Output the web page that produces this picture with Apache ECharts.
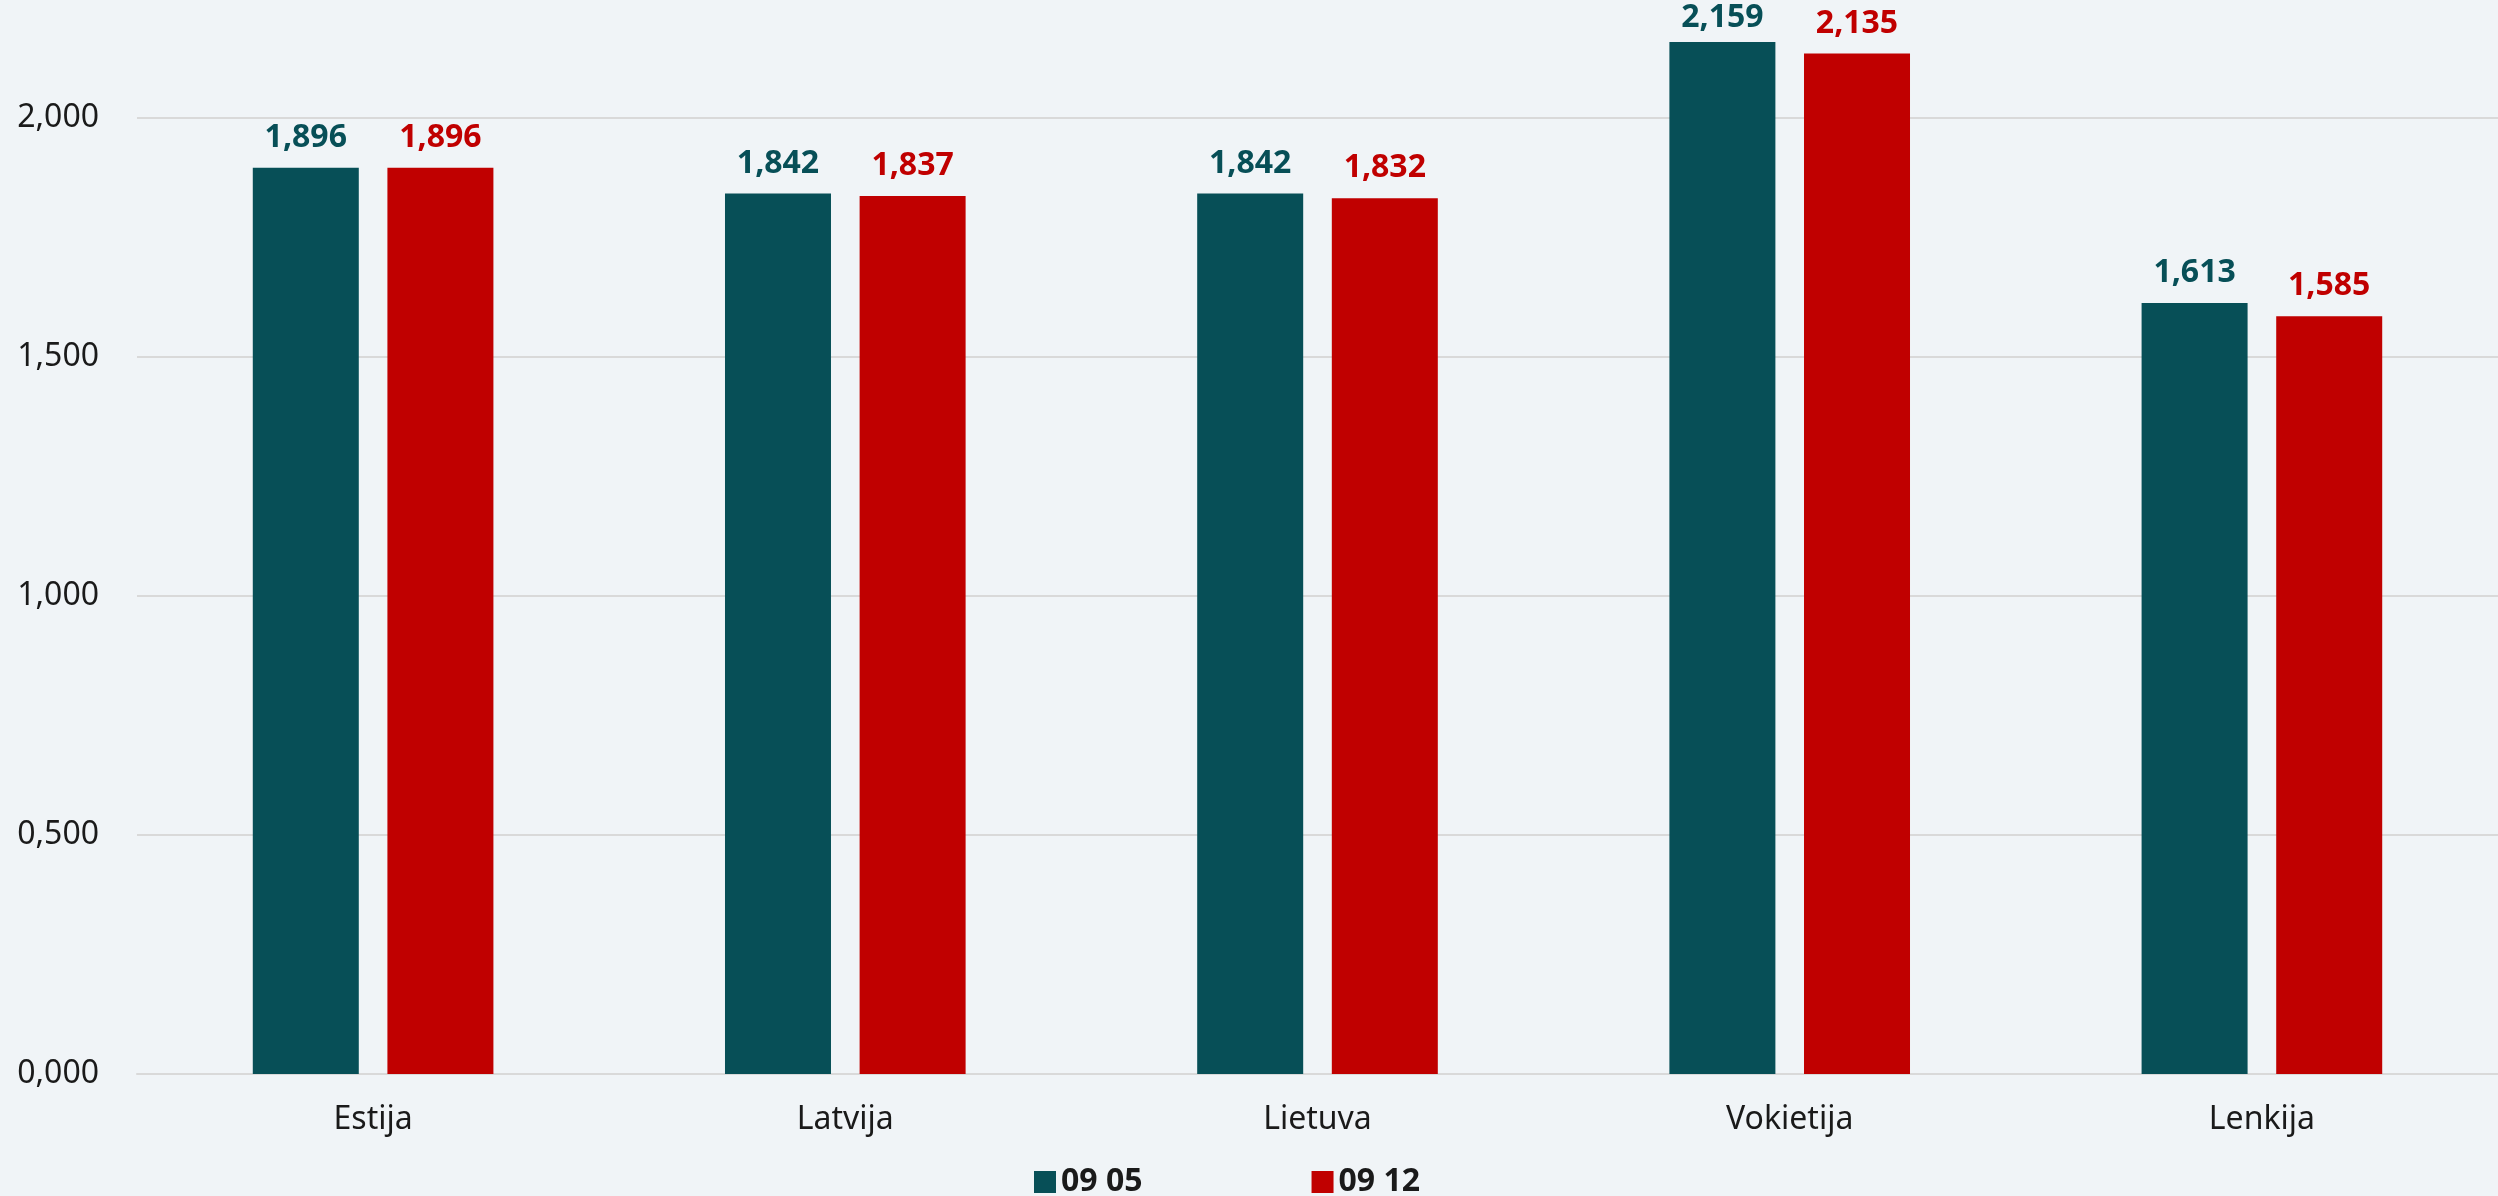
<!DOCTYPE html>
<html>
<head>
<meta charset="utf-8">
<script src="https://cdn.jsdelivr.net/npm/echarts@6/dist/echarts.min.js"></script>
<style>
html,body{margin:0;padding:0;background:#F0F4F7;}
#chart{width:2498px;height:1196px;}
</style>
</head>
<body>
<div id="chart"></div>
<script>
const categories = ['Estija', 'Latvija', 'Lietuva', 'Vokietija', 'Lenkija'];
const seriesNames = ['09 05', '09 12'];
const values0905 = [1.896, 1.842, 1.842, 2.159, 1.613];
const values0912 = [1.896, 1.837, 1.832, 2.135, 1.585];
const colors = ['#074F57', '#C00000'];

const fmt = v => Number(v).toFixed(3).replace('.', ',');
const font = '"Noto Sans", sans-serif';

// keep labels inside the canvas (as the original renderer does)
const keepInside = p => (p.labelRect.y < 2 ? {dy: 2 - p.labelRect.y} : {});

const chart = echarts.init(document.getElementById('chart'));
chart.setOption({
  backgroundColor: '#F0F4F7',
  animation: false,
  grid: {left: 137, right: 0, top: 22.4, bottom: 122, containLabel: false, outerBoundsMode: 'none'},
  legend: {
    data: seriesNames,
    left: 1029, top: 1161,
    itemWidth: 22, itemHeight: 22, itemGap: 169,
    icon: 'rect',
    textStyle: {fontFamily: font, fontSize: 32, fontWeight: 'bold', color: '#1a1a1a'}
  },
  xAxis: {
    type: 'category',
    data: categories,
    axisLine: {show: true, lineStyle: {color: '#D9D9D9', width: 2}},
    axisTick: {show: false},
    axisLabel: {fontFamily: font, fontSize: 32, color: '#1a1a1a', margin: 30}
  },
  yAxis: {
    type: 'value',
    min: 0, max: 2.2, interval: 0.5,
    axisLine: {show: false},
    axisTick: {show: false},
    axisLabel: {fontFamily: font, fontSize: 32, color: '#1a1a1a', margin: 38, showMaxLabel: false, formatter: fmt},
    splitLine: {show: true, showMaxLine: false, lineStyle: {color: '#D9D9D9', width: 2}}
  },
  series: [
    {
      name: seriesNames[0], type: 'bar', data: values0905,
      barWidth: 106, barGap: '27%',
      itemStyle: {color: colors[0]},
      labelLayout: keepInside,
      label: {show: true, position: 'top', distance: 14, formatter: p => fmt(p.value),
        fontFamily: font, fontSize: 32, fontWeight: 'bold', color: colors[0]}
    },
    {
      name: seriesNames[1], type: 'bar', data: values0912,
      barWidth: 106, barGap: '27%',
      itemStyle: {color: colors[1]},
      labelLayout: keepInside,
      label: {show: true, position: 'top', distance: 14, formatter: p => fmt(p.value),
        fontFamily: font, fontSize: 32, fontWeight: 'bold', color: colors[1]}
    }
  ]
});
</script>
</body>
</html>
